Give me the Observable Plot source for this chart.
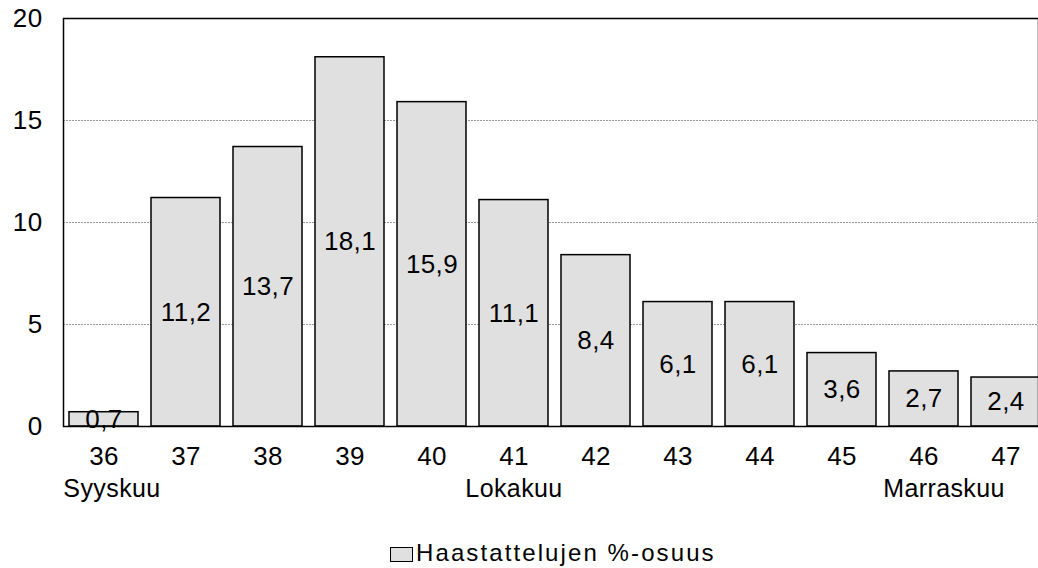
<!DOCTYPE html>
<html>
<head>
<meta charset="utf-8">
<script src="https://cdn.jsdelivr.net/npm/d3@7"></script>
<script src="https://cdn.jsdelivr.net/npm/@observablehq/plot@0.6"></script>
<style>
  html, body { margin: 0; padding: 0; background: #fff; overflow: hidden; }
  body { width: 1038px; height: 568px; font-family: "Liberation Sans", Arial, sans-serif; position: relative; }
  #chart svg { display: block; overflow: hidden; }
  #chart svg text { letter-spacing: 0.4px; }
  #legend { position: absolute; left: 390px; top: 539px; white-space: nowrap; font-size: 24px; letter-spacing: 2.1px; color: #000; line-height: 28px; }
  #legend .sw { display: inline-block; width: 23px; height: 15px; background: #e0e0e0; border: 1.5px solid #000; margin-right: 3px; vertical-align: -1px; box-sizing: border-box; }
</style>
</head>
<body>
<div id="chart"></div>
<div id="legend"><span class="sw"></span><span id="legtext"></span></div>
<script>
const weeks = ["36","37","38","39","40","41","42","43","44","45","46","47"];
const values = [0.7, 11.2, 13.7, 18.1, 15.9, 11.1, 8.4, 6.1, 6.1, 3.6, 2.7, 2.4];
const months = ["Syyskuu", "Lokakuu", "Marraskuu"];
const monthWeeks = ["36", "41", "46"];
const yTicks = [0, 5, 10, 15, 20];
const gridTicks = [5, 10, 15];
const seriesName = "Haastattelujen %-osuus";

document.getElementById("legtext").textContent = seriesName;

const data = weeks.map((w, i) => ({week: w, value: values[i], label: String(values[i]).replace(".", ",")}));
const monthShift = {"Syyskuu": 8, "Lokakuu": 0, "Marraskuu": 20};

const chart = Plot.plot({
  width: 1038,
  height: 510,
  marginTop: 18,
  marginLeft: 63,
  marginRight: 0,
  marginBottom: 84,
  style: {fontFamily: "'Liberation Sans', Arial, sans-serif", color: "#000", background: "#fff"},
  x: {domain: weeks, range: [63, 1046], paddingInner: 0.16, paddingOuter: 0.073, label: null},
  y: {domain: [0, 20], label: null},
  marks: [
    Plot.gridY(gridTicks, {stroke: "#999", strokeOpacity: 1, strokeDasharray: "2,1", strokeWidth: 1}),
    Plot.barY(data, {x: "week", y: "value", fill: "#e0e0e0", stroke: "#000", strokeWidth: 1.5}),
    Plot.text(data, {x: "week", y: d => d.value / 2, text: "label", fontSize: 26, fill: "#000"}),
    Plot.axisY(yTicks, {tickSize: 0, tickPadding: 21, fontSize: 26, label: null}),
    Plot.axisX({tickSize: 0, tickPadding: 20, fontSize: 26, label: null}),
    ...months.map((m, i) => Plot.axisX([monthWeeks[i]], {
      tickSize: 0, tickPadding: 53, fontSize: 25, label: null,
      tickFormat: () => m, dx: monthShift[m]
    })),
    Plot.frame({stroke: "#000", strokeWidth: 1.5})
  ]
});
document.getElementById("chart").appendChild(chart);
</script>
</body>
</html>
